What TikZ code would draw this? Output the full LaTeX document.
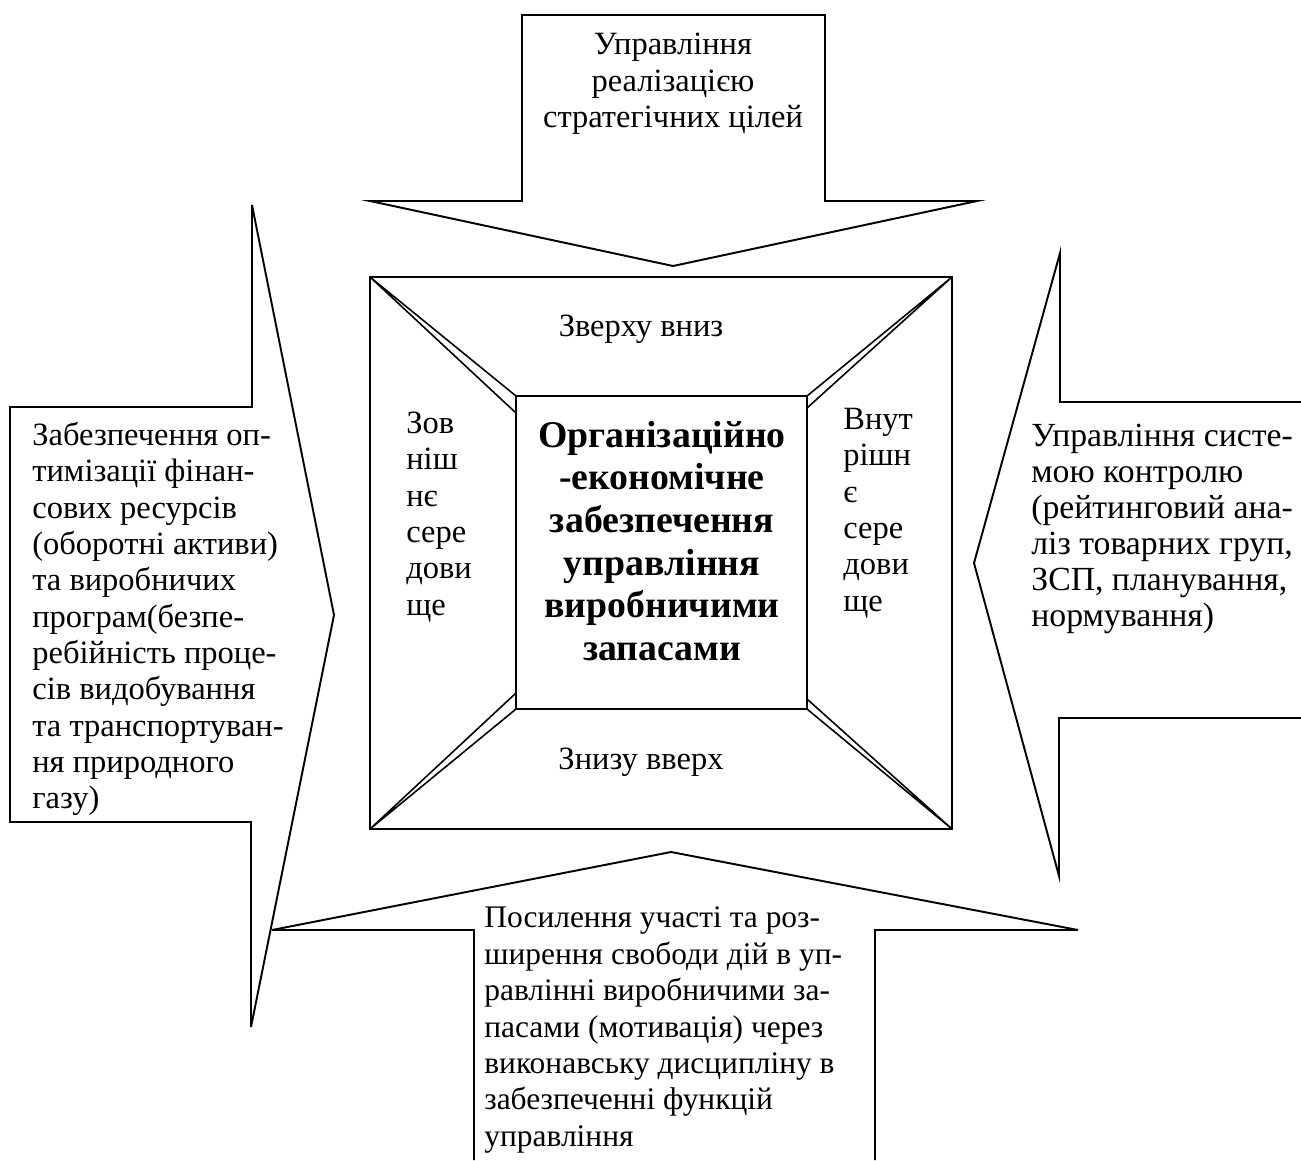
\documentclass[tikz,border=0pt]{standalone}
\usepackage{fontspec}
\setmainfont{Liberation Serif}
\tikzset{
  shp/.style={line width=1.1pt, line join=miter},
  bevel/.style={line width=0.9pt},
  txt/.style={inner sep=0pt, font=\fontsize{18.5}{20.7}\selectfont, align=left},
  core/.style={inner sep=0pt, font=\fontsize{21.5}{24.3}\selectfont\bfseries, align=center}
}

\begin{document}
\begin{tikzpicture}[x=0.02cm, y=-0.02cm]
		%%%%% START %%%%%
		\useasboundingbox (0,0) rectangle (1301,1160);
		
		% arrow from above
		\draw[shp] (522,15) -- (825,15) -- (825,201) -- (977,201) -- (673,266) -- (370,201) -- (522,201) -- cycle;
		% arrow from the left
		\draw[shp] (10,407) -- (252,407) -- (252,205) -- (334,615) -- (251,1027) -- (251,822) -- (10,822) -- cycle;
		% arrow from the right
		\draw[shp] (1301,402) -- (1060,402) -- (1060,253) -- (974,563) -- (1059,876) -- (1059,718) -- (1301,718);
		% arrow from below
		\draw[shp] (474,1160) -- (474,930) -- (272,930) -- (671,852) -- (1078,930) -- (875,930) -- (875,1160);
		
		% bevelled box
		\draw[shp] (370,277) rectangle (952,829);
		\draw[shp] (516,396) rectangle (807,709);
		\draw[bevel] (370,277) -- (516,396) (370,277) -- (516,413);
		\draw[bevel] (952,277) -- (807,396) (952,277) -- (807,408);
		\draw[bevel] (370,829) -- (516,709) (370,829) -- (516,693);
		\draw[bevel] (952,829) -- (807,709) (952,829) -- (807,699);
		
		\node[txt, align=center] (goals) at (673,84) {Управління\\реалізацією\\стратегічних цілей};
		\node[txt, anchor=west] (finance) at (32,619) {Забезпечення оп-\\тимізації фінан-\\сових ресурсів\\(оборотні активи)\\та виробничих\\програм(безпе-\\ребійність проце-\\сів видобування\\та транспортуван-\\ня природного\\газу)};
		\node[txt, anchor=west, font=\fontsize{19.2}{20.4}\selectfont] (control) at (1031,529) {Управління систе-\\мою контролю\\(рейтинговий ана-\\ліз товарних груп,\\ЗСП, планування,\\нормування)};
		\node[txt, anchor=west, font=\fontsize{17.9}{20.7}\selectfont] (motive) at (484,1030) {Посилення участі та роз-\\ширення свободи дій в уп-\\равлінні виробничими за-\\пасами (мотивація) через\\виконавську дисципліну в\\забезпеченні функцій\\управління};
		
		\node[core] (centre) at (662,541) {Організаційно\\-економічне\\забезпечення\\управління\\виробничими\\запасами};
		\node[txt] (topdown) at (641,329) {Зверху вниз};
		\node[txt] (bottomup) at (641,762) {Знизу вверх};
		\node[txt, anchor=west] (outside) at (406,517) {Зов\\ніш\\нє\\сере\\дови\\ще};
		\node[txt, anchor=west] (inside) at (843,513) {Внут\\рішн\\є\\сере\\дови\\ще};
		
		%%%%% END %%%%%
\end{tikzpicture}
\end{document}
